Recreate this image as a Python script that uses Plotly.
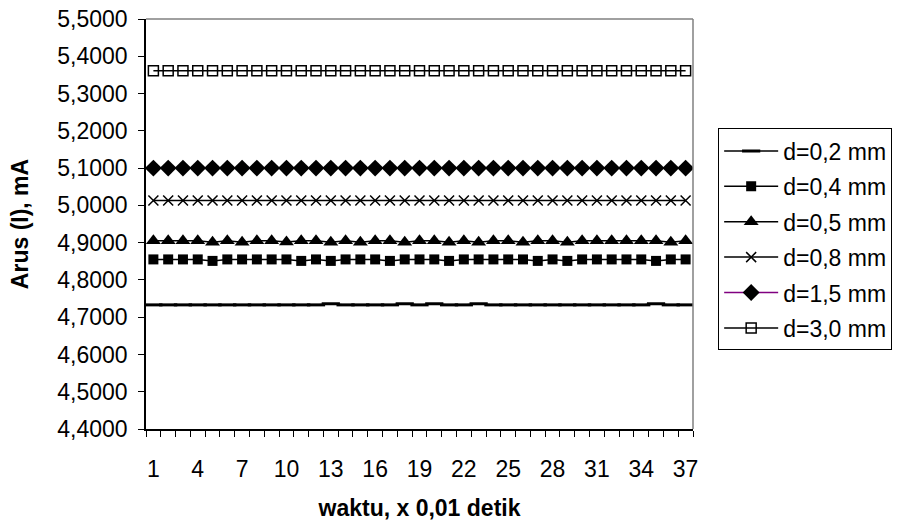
import plotly.graph_objects as go

waktu = list(range(1, 38))

d02 = [4.733, 4.733, 4.733, 4.733, 4.733, 4.733, 4.733, 4.733, 4.733, 4.733,
       4.733, 4.733, 4.736, 4.733, 4.733, 4.733, 4.733, 4.736, 4.733, 4.736,
       4.733, 4.733, 4.736, 4.733, 4.733, 4.733, 4.733, 4.733, 4.733, 4.733,
       4.733, 4.733, 4.733, 4.733, 4.736, 4.733, 4.733]
d04 = [4.855, 4.855, 4.855, 4.855, 4.851, 4.855, 4.855, 4.855, 4.855, 4.855,
       4.851, 4.855, 4.851, 4.855, 4.855, 4.855, 4.851, 4.855, 4.855, 4.855,
       4.851, 4.855, 4.855, 4.855, 4.855, 4.855, 4.851, 4.855, 4.851, 4.855,
       4.855, 4.855, 4.855, 4.855, 4.851, 4.855, 4.855]
d05 = [4.905, 4.905, 4.905, 4.905, 4.901, 4.905, 4.901, 4.905, 4.905, 4.902,
       4.905, 4.905, 4.901, 4.905, 4.901, 4.905, 4.905, 4.901, 4.905, 4.905,
       4.901, 4.905, 4.901, 4.905, 4.905, 4.901, 4.905, 4.905, 4.901, 4.905,
       4.905, 4.905, 4.905, 4.905, 4.905, 4.901, 4.905]
d08 = [5.013, 5.013, 5.013, 5.013, 5.013, 5.013, 5.013, 5.013, 5.013, 5.013,
       5.013, 5.013, 5.013, 5.013, 5.013, 5.013, 5.013, 5.013, 5.013, 5.013,
       5.013, 5.013, 5.013, 5.013, 5.013, 5.013, 5.013, 5.013, 5.013, 5.013,
       5.013, 5.013, 5.013, 5.013, 5.013, 5.013, 5.013]
d15 = [5.100, 5.100, 5.100, 5.100, 5.100, 5.100, 5.100, 5.100, 5.100, 5.100,
       5.100, 5.100, 5.100, 5.100, 5.100, 5.100, 5.100, 5.100, 5.100, 5.100,
       5.100, 5.100, 5.100, 5.100, 5.100, 5.100, 5.100, 5.100, 5.100, 5.100,
       5.100, 5.100, 5.100, 5.100, 5.100, 5.100, 5.100]
d30 = [5.361, 5.361, 5.361, 5.361, 5.361, 5.361, 5.361, 5.361, 5.361, 5.361,
       5.361, 5.361, 5.361, 5.361, 5.361, 5.361, 5.361, 5.361, 5.361, 5.361,
       5.361, 5.361, 5.361, 5.361, 5.361, 5.361, 5.361, 5.361, 5.361, 5.361,
       5.361, 5.361, 5.361, 5.361, 5.361, 5.361, 5.361]

series_names = ["d=0,2 mm", "d=0,4 mm", "d=0,5 mm", "d=0,8 mm", "d=1,5 mm", "d=3,0 mm"]
x_tickvals = list(range(1, 38, 3))
y_tickvals = [4.4, 4.5, 4.6, 4.7, 4.8, 4.9, 5.0, 5.1, 5.2, 5.3, 5.4, 5.5]

FONT = "Liberation Sans, Arial, sans-serif"
FS = 23

styles = [
    dict(line=dict(color="black", width=1.5),
         marker=dict(symbol="line-ew", size=13, color="black", line=dict(color="black", width=3))),
    dict(line=dict(color="black", width=1.5),
         marker=dict(symbol="square", size=10, color="black")),
    dict(line=dict(color="black", width=1.5),
         marker=dict(symbol="triangle-up", size=13, color="black")),
    dict(line=dict(color="black", width=1.5),
         marker=dict(symbol="x-thin-open", size=10, color="black", line=dict(color="black", width=1.5))),
    dict(line=dict(color="#800080", width=1.5),
         marker=dict(symbol="diamond", size=13, color="black")),
    dict(line=dict(color="black", width=1.5),
         marker=dict(symbol="square-open", size=10, color="black", line=dict(color="black", width=1.5))),
]

fig = go.Figure()
for i, (name, ys) in enumerate(zip(series_names, [d02, d04, d05, d08, d15, d30])):
    fig.add_trace(go.Scatter(x=waktu, y=ys, name=name, mode="lines+markers",
                             legendgroup=name, **styles[i]))

fig.update_layout(
    width=898, height=521,
    margin=dict(l=146, r=205, t=19, b=92, autoexpand=False),
    paper_bgcolor="white", plot_bgcolor="white",
    separators=", ",
    font=dict(family=FONT, size=FS, color="black"),
    showlegend=True,
    legend=dict(x=1.046, xanchor="left", y=0.733, yanchor="top",
                bordercolor="black", borderwidth=1, bgcolor="white",
                font=dict(family=FONT, size=FS, color="black"),
                itemwidth=54, tracegroupgap=2.5, traceorder="grouped"),
    xaxis=dict(range=[0.5, 37.5], tickmode="array", tickvals=x_tickvals,
               ticks="", showgrid=False, zeroline=False,
               showline=True, linecolor="black", linewidth=1.5,
               tickfont=dict(family=FONT, size=FS), ticklabelstandoff=19,
               minor=dict(tickmode="linear", tick0=0.5, dtick=1, ticks="outside",
                          ticklen=6, tickcolor="black", tickwidth=1, showgrid=False),
               title=dict(text="<b>waktu, x 0,01 detik</b>", font=dict(family=FONT, size=FS), standoff=23)),
    yaxis=dict(range=[4.4, 5.5], tickmode="array", tickvals=y_tickvals, tickformat=".4f",
               ticks="outside", ticklen=6, tickcolor="black", tickwidth=1,
               showgrid=False, zeroline=False,
               showline=True, linecolor="black", linewidth=1.5,
               tickfont=dict(family=FONT, size=FS), ticklabelstandoff=6,
               title=dict(text="<b>Arus (I), mA</b>", font=dict(family=FONT, size=FS), standoff=22)),
    shapes=[
        dict(type="line", xref="x domain", yref="y domain", x0=0, x1=1, y0=1, y1=1,
             line=dict(color="#808080", width=1.5)),
        dict(type="line", xref="x domain", yref="y domain", x0=1, x1=1, y0=0, y1=1,
             line=dict(color="#808080", width=1.5)),
    ],
)

fig.write_html("out.html")
